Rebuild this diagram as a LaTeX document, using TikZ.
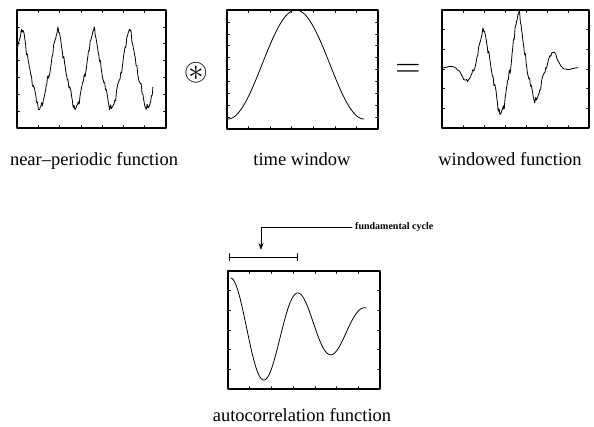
\documentclass[tikz,border=0pt]{standalone}
\usepackage{fontspec}
\setmainfont{Liberation Serif}
\usepackage{amssymb}
\usetikzlibrary{arrows.meta}

% frame of one plot: width, height, number of y divisions
\newcommand{\plotbox}[3]{%
  \draw[frame] (0,0) rectangle (#1,#2);
  \foreach \i in {1,...,6}
    {\draw[tick] ({\i*#1/7},0) -- ++(0,2.5) ({\i*#1/7},#2) -- ++(0,-2.5);}
  \pgfmathtruncatemacro{\nlast}{#3-1}
  \foreach \j in {1,...,\nlast}
    {\draw[tick] (0,{\j*#2/#3}) -- ++(2.5,0) (#1,{\j*#2/#3}) -- ++(-2.5,0);}
}

\begin{document}
\begin{tikzpicture}[x=1pt, y=-1pt, line join=round, line cap=round,
    >={Stealth[length=7pt,width=5pt]},
    frame/.style={line width=1.1pt},
    tick/.style={line width=0.5pt},
    curve/.style={line width=0.8pt},
    caption/.style={font=\fontsize{18.5}{22}\selectfont, anchor=base},
    declare function={
      sig(\x)=cos(360*(\x-0.037)/0.263)+0.08*cos(720*(\x-0.037)/0.263)
        +0.1*cos(1080*(\x-0.037)/0.263)
        +0.05*sin(360*23*\x+60)
        +0.035*sin(360*41*\x)+0.03*sin(360*mod(67*\x,1)+40)
        +0.025*sin(360*mod(93*\x,1)+100);
      win(\x)=(1-cos(360*\x))/2;
      acf(\x)=(0.547-0.00066*\x)-(0.493-0.00254*\x)*cos(5.3333*(\x-3));
    }]
  \useasboundingbox (0,0) rectangle (594,426);

  % near-periodic function
  \begin{scope}[shift={(17,10)}]
    \plotbox{149}{118}{7}
    \draw[curve] plot[domain=0:1, samples=300] ({136*\x}, {118*(0.53-0.3*sig(\x))});
  \end{scope}
  \node[caption] (lnear) at (94,165) {near--periodic function};

  \node (conv) at (196,72.5) {\scalebox{3.1}{$\circledast$}};

  % time window
  \begin{scope}[shift={(227,10)}]
    \plotbox{151}{119}{10}
    \draw[curve] plot[domain=0:1, samples=120] ({1+136*\x}, {109-109*win(\x)});
  \end{scope}
  \node[caption] (lwin) at (302,165) {time window};

  \node (eq) at (408,70) {\scalebox{3.3}{$=$}};

  % windowed function
  \begin{scope}[shift={(442,10)}]
    \plotbox{147}{118}{6}
    \draw[curve] plot[domain=0:1, samples=300] ({136*\x}, {118*(0.49-0.4*sig(\x)*win(\x))});
  \end{scope}
  \node[caption] (lwind) at (510,165) {windowed function};

  % autocorrelation function
  \begin{scope}[shift={(228,271)}]
    \plotbox{152}{118}{6}
    \draw[curve] plot[domain=3:138, samples=120] (\x, {118*acf(\x)});
  \end{scope}
  \node[caption] (lauto) at (302,421) {autocorrelation function};

  % fundamental cycle marker
  \node[font=\bfseries\fontsize{10}{12}\selectfont, anchor=west, inner sep=0pt] (fc) at (355,227) {fundamental cycle};
  \coordinate (cycA) at (229,257);
  \coordinate (cycB) at (297,257);
  \coordinate (cyctip) at (261,250);
  \draw[line width=0.9pt] (cycA) -- (cycB);
  \draw[line width=0.9pt] (cycA) ++(0,-3.5) -- ++(0,7) (cycB) ++(0,-3.5) -- ++(0,7);
  \draw[->, line width=0.7pt] ([xshift=-3pt]fc.west) -| (cyctip);
\end{tikzpicture}
\end{document}
